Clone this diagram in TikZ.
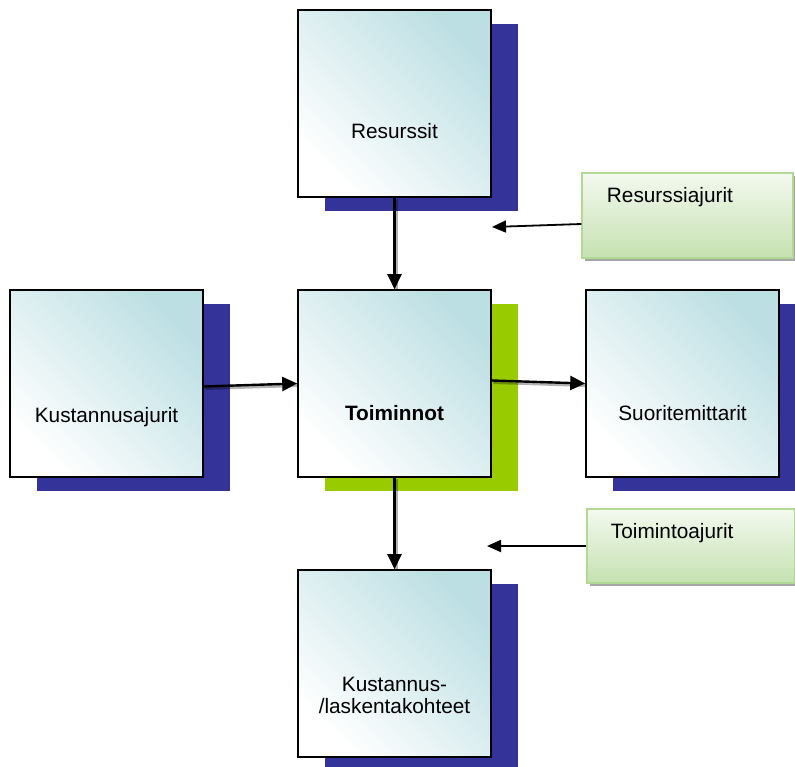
\documentclass[tikz,border=0pt]{standalone}
\usepackage{fontspec}
\setmainfont{Liberation Sans}
\usetikzlibrary{arrows.meta}
\usetikzlibrary{shadows}
\definecolor{boxteal}{RGB}{188,223,227}
\definecolor{varjosin}{RGB}{51,51,153}
\definecolor{varjovihr}{RGB}{153,204,0}
\definecolor{ajurivihr}{RGB}{197,225,176}
\definecolor{ajurireuna}{RGB}{178,216,150}
\tikzset{
  blok/.style={draw=black, line width=1.6pt, inner sep=0pt,
    minimum width=193pt, minimum height=187pt,
    bottom color=white, top color=boxteal, shading angle=-45},
  sinivarjo/.style={drop shadow={fill=varjosin, opacity=1,
    shadow xshift=27pt, shadow yshift=-14pt}},
  vihrvarjo/.style={drop shadow={fill=varjovihr, opacity=1,
    shadow xshift=27pt, shadow yshift=-14pt}},
  ajuri/.style={draw=ajurireuna, line width=1.2pt, inner sep=0pt,
    top color=ajurivihr!20, bottom color=ajurivihr,
    drop shadow={fill=black!35, opacity=1, shadow xshift=3pt, shadow yshift=-3pt}},
  paanuoli/.style={line width=2.4pt, -{Triangle[length=15pt,width=14pt]},
    preaction={draw=black, opacity=.3, line width=4pt, arrows=-,
      transform canvas={shift={(1.5pt,-1.5pt)}}}},
  ajnuoli/.style={line width=1.8pt, -{Triangle[length=14pt,width=12pt]}}
}
\begin{document}
\begin{tikzpicture}[x=1pt,y=-1pt,font=\fontsize{20.8}{22.5}\selectfont]
\useasboundingbox (0,0) rectangle (795,767);
\node[blok,sinivarjo,label={[yshift=-28pt]center:Resurssit}] (res) at (394.5,103.5) {};
\node[blok,vihrvarjo,label={[yshift=-30pt]center:\textbf{Toiminnot}}] (toim) at (394.5,383.5) {};
\node[blok,sinivarjo,label={[yshift=-34pt]center:Kustannusajurit}] (kust) at (106.5,383.5) {};
\node[blok,sinivarjo,label={[yshift=-30pt]center:Suoritemittarit}] (suor) at (682.5,383.5) {};
\node[blok,sinivarjo,label={[yshift=-32pt,align=center]center:Kustannus-\\/laskentakohteet}] (kohde) at (394.5,663.5) {};
\node[ajuri,minimum width=211pt,minimum height=85pt,
  label={[anchor=west,xshift=22pt,yshift=18pt]west:Resurssiajurit}] (resajur) at (687.5,215.5) {};
\node[ajuri,minimum width=208pt,minimum height=74pt,
  label={[anchor=west,xshift=21pt,yshift=13pt]west:Toimintoajurit}] (toimajur) at (691,546) {};
\coordinate (respaa) at (492,227);
\coordinate (toimpaa) at (487,546);
\draw[paanuoli] (res.south) -- (toim.north);
\draw[paanuoli] ([yshift=-3pt]kust.east) -- (toim.west);
\draw[paanuoli] ([yshift=3pt]toim.east) -- (suor.west);
\draw[paanuoli] (toim.south) -- (kohde.north);
\draw[ajnuoli] ([yshift=-8.5pt]resajur.west) -- (respaa);
\draw[ajnuoli] (toimajur.west) -- (toimpaa);
\end{tikzpicture}
\end{document}
